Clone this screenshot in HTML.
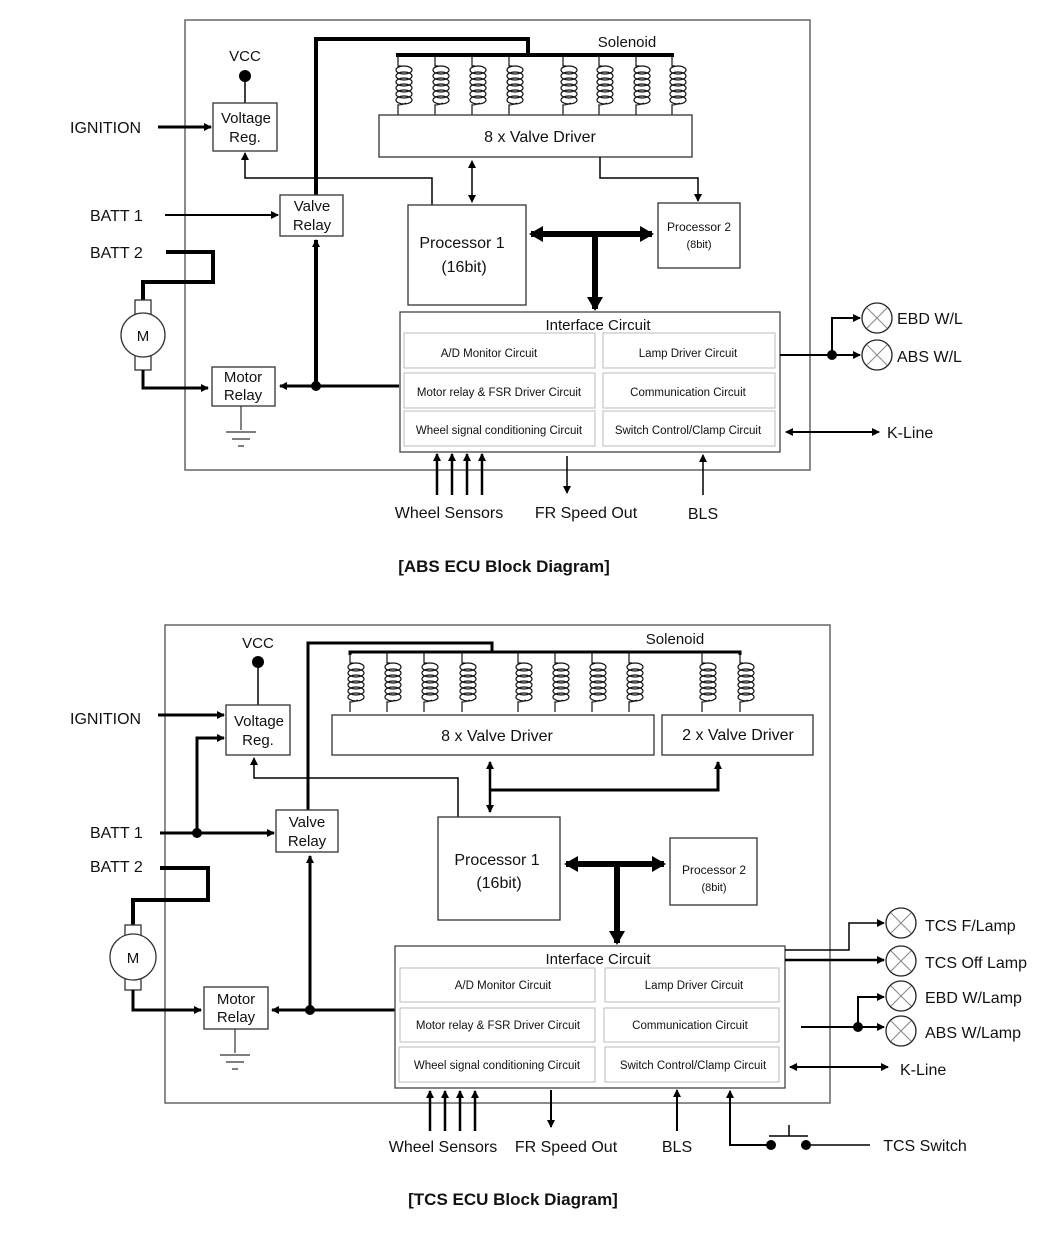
<!DOCTYPE html>
<html><head><meta charset="utf-8"><style>
html,body{margin:0;padding:0;background:#fff;}
svg{display:block;}
text{font-family:"Liberation Sans",Arial,sans-serif;fill:#111;}
</style></head><body>
<svg width="1050" height="1234" viewBox="0 0 1050 1234" xmlns="http://www.w3.org/2000/svg">
<defs>
<marker id="a" markerWidth="8" markerHeight="8" refX="7" refY="4" orient="auto" markerUnits="userSpaceOnUse"><path d="M0,0 L8,4 L0,8 z" fill="#000"/></marker>
<marker id="as" markerWidth="8" markerHeight="8" refX="1" refY="4" orient="auto" markerUnits="userSpaceOnUse"><path d="M8,0 L0,4 L8,8 z" fill="#000"/></marker>
<marker id="A" markerWidth="16" markerHeight="16" refX="12" refY="8" orient="auto" markerUnits="userSpaceOnUse"><path d="M0,0 L14,8 L0,16 z" fill="#000"/></marker>
<marker id="AS" markerWidth="16" markerHeight="16" refX="4" refY="8" orient="auto" markerUnits="userSpaceOnUse"><path d="M16,0 L2,8 L16,16 z" fill="#000"/></marker>
<g id="coil" fill="none" stroke="#111" stroke-width="1.2">
<path d="M0,0 V11 H3 M8,48 Q4,50 0,50 V60"/>
<ellipse cx="6" cy="15" rx="8" ry="4"/><ellipse cx="6" cy="21" rx="8" ry="4"/><ellipse cx="6" cy="27" rx="8" ry="4"/>
<ellipse cx="6" cy="33" rx="8" ry="4"/><ellipse cx="6" cy="39" rx="8" ry="4"/><ellipse cx="6" cy="45" rx="8" ry="4"/>
</g>
<g id="lamp"><circle r="15" fill="#fff" stroke="#222" stroke-width="1.3"/><path d="M-10,-10 L10,10 M-10,10 L10,-10" stroke="#888" stroke-width="1"/></g>
<g id="gnd" stroke="#333" stroke-width="1.2"><path d="M0,0 V24 M-15,26 H15 M-9,33 H9 M-3,40 H3"/></g>
</defs>

<!-- ================= ABS ================= -->
<rect x="185" y="20" width="625" height="450" fill="none" stroke="#666" stroke-width="1.5"/>
<text x="245" y="61" font-size="15" text-anchor="middle">VCC</text>
<circle cx="245" cy="76" r="6" fill="#000"/>
<line x1="245" y1="76" x2="245" y2="103" stroke="#000" stroke-width="1.5"/>
<rect x="213" y="103" width="64" height="48" fill="#fff" stroke="#333" stroke-width="1.3"/>
<text x="246" y="123" font-size="15" text-anchor="middle">Voltage</text>
<text x="245" y="142" font-size="15" text-anchor="middle">Reg.</text>
<text x="70" y="133" font-size="16">IGNITION</text>
<line x1="158" y1="127" x2="211" y2="127" stroke="#000" stroke-width="3" marker-end="url(#a)"/>
<path d="M316,195 V39 H528 V55 M398,57 V55 H672 V57" fill="none" stroke="#000" stroke-width="4"/>
<use href="#coil" x="398" y="55"/><use href="#coil" x="435" y="55"/><use href="#coil" x="472" y="55"/><use href="#coil" x="509" y="55"/>
<use href="#coil" x="563" y="55"/><use href="#coil" x="599" y="55"/><use href="#coil" x="636" y="55"/><use href="#coil" x="672" y="55"/>
<text x="627" y="47" font-size="15" text-anchor="middle">Solenoid</text>
<rect x="379" y="115" width="313" height="42" fill="#fff" stroke="#333" stroke-width="1.3"/>
<text x="540" y="142" font-size="16" text-anchor="middle">8 x Valve Driver</text>
<line x1="472" y1="161" x2="472" y2="202" stroke="#000" stroke-width="1.5" marker-start="url(#as)" marker-end="url(#a)"/>
<path d="M600,157 V178 H698 V201" fill="none" stroke="#000" stroke-width="1.5" marker-end="url(#a)"/>
<rect x="658" y="203" width="82" height="65" fill="#fff" stroke="#333" stroke-width="1.3"/>
<text x="699" y="231" font-size="12" text-anchor="middle">Processor 2</text>
<text x="699" y="248" font-size="11" text-anchor="middle">(8bit)</text>
<path d="M432,205 V178 H245 V153" fill="none" stroke="#000" stroke-width="1.5" marker-end="url(#a)"/>
<rect x="408" y="205" width="118" height="100" fill="#fff" stroke="#333" stroke-width="1.3"/>
<text x="462" y="248" font-size="16" text-anchor="middle">Processor 1</text>
<text x="464" y="272" font-size="16" text-anchor="middle">(16bit)</text>
<line x1="531" y1="234" x2="652" y2="234" stroke="#000" stroke-width="6" marker-start="url(#AS)" marker-end="url(#A)"/>
<line x1="595" y1="234" x2="595" y2="309" stroke="#000" stroke-width="6" marker-end="url(#A)"/>
<rect x="280" y="195" width="63" height="41" fill="#fff" stroke="#333" stroke-width="1.3"/>
<text x="312" y="211" font-size="15" text-anchor="middle">Valve</text>
<text x="312" y="230" font-size="15" text-anchor="middle">Relay</text>
<text x="90" y="221" font-size="16">BATT 1</text>
<line x1="165" y1="215" x2="278" y2="215" stroke="#000" stroke-width="2" marker-end="url(#a)"/>
<text x="90" y="258" font-size="16">BATT 2</text>
<path d="M166,252 H213 V282 H143 V300" fill="none" stroke="#000" stroke-width="4"/>
<rect x="135" y="300" width="16" height="15" fill="#fff" stroke="#333" stroke-width="1.3"/>
<rect x="135" y="355" width="16" height="15" fill="#fff" stroke="#333" stroke-width="1.3"/>
<circle cx="143" cy="335" r="22" fill="#fff" stroke="#333" stroke-width="1.3"/>
<text x="143" y="341" font-size="15" text-anchor="middle">M</text>
<path d="M143,370 V388 H208" fill="none" stroke="#000" stroke-width="3" marker-end="url(#a)"/>
<rect x="212" y="367" width="63" height="39" fill="#fff" stroke="#333" stroke-width="1.3"/>
<text x="243" y="382" font-size="15" text-anchor="middle">Motor</text>
<text x="243" y="400" font-size="15" text-anchor="middle">Relay</text>
<use href="#gnd" x="241" y="406"/>
<line x1="399" y1="386" x2="280" y2="386" stroke="#000" stroke-width="3" marker-end="url(#a)"/>
<circle cx="316" cy="386" r="5" fill="#000"/>
<line x1="316" y1="386" x2="316" y2="240" stroke="#000" stroke-width="4" marker-end="url(#a)"/>
<rect x="400" y="312" width="380" height="140" fill="#fff" stroke="#444" stroke-width="1.3"/>
<text x="598" y="330" font-size="15" text-anchor="middle">Interface Circuit</text>
<g fill="none" stroke="#bbb" stroke-width="1">
<rect x="404" y="333" width="191" height="35"/><rect x="603" y="333" width="172" height="35"/>
<rect x="404" y="373" width="191" height="35"/><rect x="603" y="373" width="172" height="35"/>
<rect x="404" y="411" width="191" height="35"/><rect x="603" y="411" width="172" height="35"/>
</g>
<g font-size="11.5" text-anchor="middle">
<text x="489" y="357">A/D Monitor Circuit</text><text x="688" y="357">Lamp Driver Circuit</text>
<text x="499" y="396">Motor relay &amp; FSR Driver Circuit</text><text x="688" y="396">Communication Circuit</text>
<text x="499" y="434">Wheel signal conditioning Circuit</text><text x="688" y="434">Switch Control/Clamp Circuit</text>
</g>
<path d="M780,355 H860" fill="none" stroke="#000" stroke-width="2" marker-end="url(#a)"/>
<path d="M832,355 V318 H860" fill="none" stroke="#000" stroke-width="2" marker-end="url(#a)"/>
<circle cx="832" cy="355" r="5" fill="#000"/>
<use href="#lamp" x="877" y="318"/><use href="#lamp" x="877" y="355"/>
<text x="897" y="324" font-size="16">EBD W/L</text>
<text x="897" y="362" font-size="16">ABS W/L</text>
<line x1="786" y1="432" x2="879" y2="432" stroke="#000" stroke-width="2" marker-start="url(#as)" marker-end="url(#a)"/>
<text x="887" y="438" font-size="16">K-Line</text>
<g stroke="#000" stroke-width="2.5">
<line x1="437" y1="495" x2="437" y2="454" marker-end="url(#a)"/><line x1="452" y1="495" x2="452" y2="454" marker-end="url(#a)"/>
<line x1="467" y1="495" x2="467" y2="454" marker-end="url(#a)"/><line x1="482" y1="495" x2="482" y2="454" marker-end="url(#a)"/>
<line x1="567" y1="456" x2="567" y2="493" stroke-width="1.5" marker-end="url(#a)"/>
<line x1="703" y1="495" x2="703" y2="455" stroke-width="1.5" marker-end="url(#a)"/>
</g>
<text x="449" y="518" font-size="16" text-anchor="middle">Wheel Sensors</text>
<text x="586" y="518" font-size="16" text-anchor="middle">FR Speed Out</text>
<text x="703" y="519" font-size="16" text-anchor="middle">BLS</text>
<text x="504" y="572" font-size="17" font-weight="bold" text-anchor="middle">[ABS ECU Block Diagram]</text>

<!-- ================= TCS ================= -->
<rect x="165" y="625" width="665" height="478" fill="none" stroke="#666" stroke-width="1.5"/>
<text x="258" y="648" font-size="15" text-anchor="middle">VCC</text>
<circle cx="258" cy="662" r="6" fill="#000"/>
<line x1="258" y1="662" x2="258" y2="706" stroke="#000" stroke-width="1.5"/>
<rect x="226" y="705" width="64" height="50" fill="#fff" stroke="#333" stroke-width="1.3"/>
<text x="259" y="726" font-size="15" text-anchor="middle">Voltage</text>
<text x="258" y="745" font-size="15" text-anchor="middle">Reg.</text>
<text x="70" y="724" font-size="16">IGNITION</text>
<line x1="158" y1="715" x2="224" y2="715" stroke="#000" stroke-width="3" marker-end="url(#a)"/>
<text x="90" y="838" font-size="16">BATT 1</text>
<line x1="160" y1="833" x2="274" y2="833" stroke="#000" stroke-width="3" marker-end="url(#a)"/>
<circle cx="197" cy="833" r="5" fill="#000"/>
<path d="M197,833 V738 H224" fill="none" stroke="#000" stroke-width="3" marker-end="url(#a)"/>
<path d="M308,810 V643 H492 V652" fill="none" stroke="#000" stroke-width="3"/>
<path d="M350,655 V652 H740 V655" fill="none" stroke="#000" stroke-width="3"/>
<use href="#coil" x="350" y="652"/><use href="#coil" x="387" y="652"/><use href="#coil" x="424" y="652"/><use href="#coil" x="462" y="652"/>
<use href="#coil" x="518" y="652"/><use href="#coil" x="555" y="652"/><use href="#coil" x="592" y="652"/><use href="#coil" x="629" y="652"/>
<use href="#coil" x="702" y="652"/><use href="#coil" x="740" y="652"/>
<text x="675" y="644" font-size="15" text-anchor="middle">Solenoid</text>
<rect x="332" y="715" width="322" height="40" fill="#fff" stroke="#333" stroke-width="1.3"/>
<text x="497" y="741" font-size="16" text-anchor="middle">8 x Valve Driver</text>
<rect x="662" y="715" width="151" height="40" fill="#fff" stroke="#333" stroke-width="1.3"/>
<text x="738" y="740" font-size="16" text-anchor="middle">2 x Valve Driver</text>
<line x1="490" y1="762" x2="490" y2="812" stroke="#000" stroke-width="2.5" marker-start="url(#as)" marker-end="url(#a)"/>
<path d="M490,790 H718 V762" fill="none" stroke="#000" stroke-width="3" marker-end="url(#a)"/>
<path d="M458,817 V778 H254 V758" fill="none" stroke="#000" stroke-width="1.5" marker-end="url(#a)"/>
<rect x="276" y="810" width="62" height="42" fill="#fff" stroke="#333" stroke-width="1.3"/>
<text x="307" y="827" font-size="15" text-anchor="middle">Valve</text>
<text x="307" y="846" font-size="15" text-anchor="middle">Relay</text>
<rect x="438" y="817" width="122" height="103" fill="#fff" stroke="#333" stroke-width="1.3"/>
<text x="497" y="865" font-size="16" text-anchor="middle">Processor 1</text>
<text x="499" y="888" font-size="16" text-anchor="middle">(16bit)</text>
<rect x="670" y="838" width="87" height="67" fill="#fff" stroke="#333" stroke-width="1.3"/>
<text x="714" y="874" font-size="12" text-anchor="middle">Processor 2</text>
<text x="714" y="891" font-size="11" text-anchor="middle">(8bit)</text>
<line x1="566" y1="864" x2="664" y2="864" stroke="#000" stroke-width="6" marker-start="url(#AS)" marker-end="url(#A)"/>
<line x1="617" y1="864" x2="617" y2="943" stroke="#000" stroke-width="6" marker-end="url(#A)"/>
<text x="90" y="872" font-size="16">BATT 2</text>
<path d="M160,868 H208 V900 H133 V925" fill="none" stroke="#000" stroke-width="4"/>
<rect x="125" y="925" width="16" height="12" fill="#fff" stroke="#333" stroke-width="1.3"/>
<rect x="125" y="978" width="16" height="12" fill="#fff" stroke="#333" stroke-width="1.3"/>
<circle cx="133" cy="957" r="23" fill="#fff" stroke="#333" stroke-width="1.3"/>
<text x="133" y="963" font-size="15" text-anchor="middle">M</text>
<path d="M133,990 V1010 H201" fill="none" stroke="#000" stroke-width="3" marker-end="url(#a)"/>
<rect x="204" y="987" width="64" height="42" fill="#fff" stroke="#333" stroke-width="1.3"/>
<text x="236" y="1004" font-size="15" text-anchor="middle">Motor</text>
<text x="236" y="1022" font-size="15" text-anchor="middle">Relay</text>
<use href="#gnd" x="235" y="1029"/>
<line x1="396" y1="1010" x2="272" y2="1010" stroke="#000" stroke-width="3" marker-end="url(#a)"/>
<circle cx="310" cy="1010" r="5" fill="#000"/>
<line x1="310" y1="1010" x2="310" y2="856" stroke="#000" stroke-width="3" marker-end="url(#a)"/>
<rect x="395" y="946" width="390" height="142" fill="#fff" stroke="#444" stroke-width="1.3"/>
<text x="598" y="964" font-size="15" text-anchor="middle">Interface Circuit</text>
<g fill="none" stroke="#bbb" stroke-width="1">
<rect x="400" y="968" width="195" height="34"/><rect x="605" y="968" width="174" height="34"/>
<rect x="400" y="1008" width="195" height="34"/><rect x="604" y="1008" width="175" height="34"/>
<rect x="399" y="1047" width="196" height="35"/><rect x="605" y="1047" width="174" height="35"/>
</g>
<g font-size="11.5" text-anchor="middle">
<text x="503" y="989">A/D Monitor Circuit</text><text x="694" y="989">Lamp Driver Circuit</text>
<text x="498" y="1029">Motor relay &amp; FSR Driver Circuit</text><text x="690" y="1029">Communication Circuit</text>
<text x="497" y="1069">Wheel signal conditioning Circuit</text><text x="693" y="1069">Switch Control/Clamp Circuit</text>
</g>
<path d="M785,950 H849 V923 H884" fill="none" stroke="#000" stroke-width="1.5" marker-end="url(#a)"/>
<line x1="785" y1="960" x2="884" y2="960" stroke="#000" stroke-width="2.5" marker-end="url(#a)"/>
<line x1="801" y1="1027" x2="884" y2="1027" stroke="#000" stroke-width="2" marker-end="url(#a)"/>
<path d="M858,1027 V997 H884" fill="none" stroke="#000" stroke-width="2" marker-end="url(#a)"/>
<circle cx="858" cy="1027" r="5" fill="#000"/>
<use href="#lamp" x="901" y="923"/><use href="#lamp" x="901" y="961"/><use href="#lamp" x="901" y="996"/><use href="#lamp" x="901" y="1031"/>
<text x="925" y="931" font-size="16">TCS F/Lamp</text>
<text x="925" y="968" font-size="16">TCS Off Lamp</text>
<text x="925" y="1003" font-size="16">EBD W/Lamp</text>
<text x="925" y="1038" font-size="16">ABS W/Lamp</text>
<line x1="790" y1="1067" x2="888" y2="1067" stroke="#000" stroke-width="2" marker-start="url(#as)" marker-end="url(#a)"/>
<text x="900" y="1075" font-size="16">K-Line</text>
<g stroke="#000" stroke-width="2.5">
<line x1="430" y1="1131" x2="430" y2="1091" marker-end="url(#a)"/><line x1="445" y1="1131" x2="445" y2="1091" marker-end="url(#a)"/>
<line x1="460" y1="1131" x2="460" y2="1091" marker-end="url(#a)"/><line x1="475" y1="1131" x2="475" y2="1091" marker-end="url(#a)"/>
<line x1="551" y1="1090" x2="551" y2="1127" stroke-width="2" marker-end="url(#a)"/>
<line x1="677" y1="1131" x2="677" y2="1090" stroke-width="2" marker-end="url(#a)"/>
</g>
<path d="M771,1145 H730 V1091" fill="none" stroke="#000" stroke-width="2" marker-end="url(#a)"/>
<circle cx="771" cy="1145" r="5" fill="#000"/><circle cx="806" cy="1145" r="5" fill="#000"/>
<path d="M769,1136 H808 M789,1136 V1125" stroke="#000" stroke-width="1.5"/>
<line x1="806" y1="1145" x2="870" y2="1145" stroke="#000" stroke-width="1.5"/>
<text x="925" y="1151" font-size="16" text-anchor="middle">TCS Switch</text>
<text x="443" y="1152" font-size="16" text-anchor="middle">Wheel Sensors</text>
<text x="566" y="1152" font-size="16" text-anchor="middle">FR Speed Out</text>
<text x="677" y="1152" font-size="16" text-anchor="middle">BLS</text>
<text x="513" y="1205" font-size="17" font-weight="bold" text-anchor="middle">[TCS ECU Block Diagram]</text>
</svg>
</body></html>
